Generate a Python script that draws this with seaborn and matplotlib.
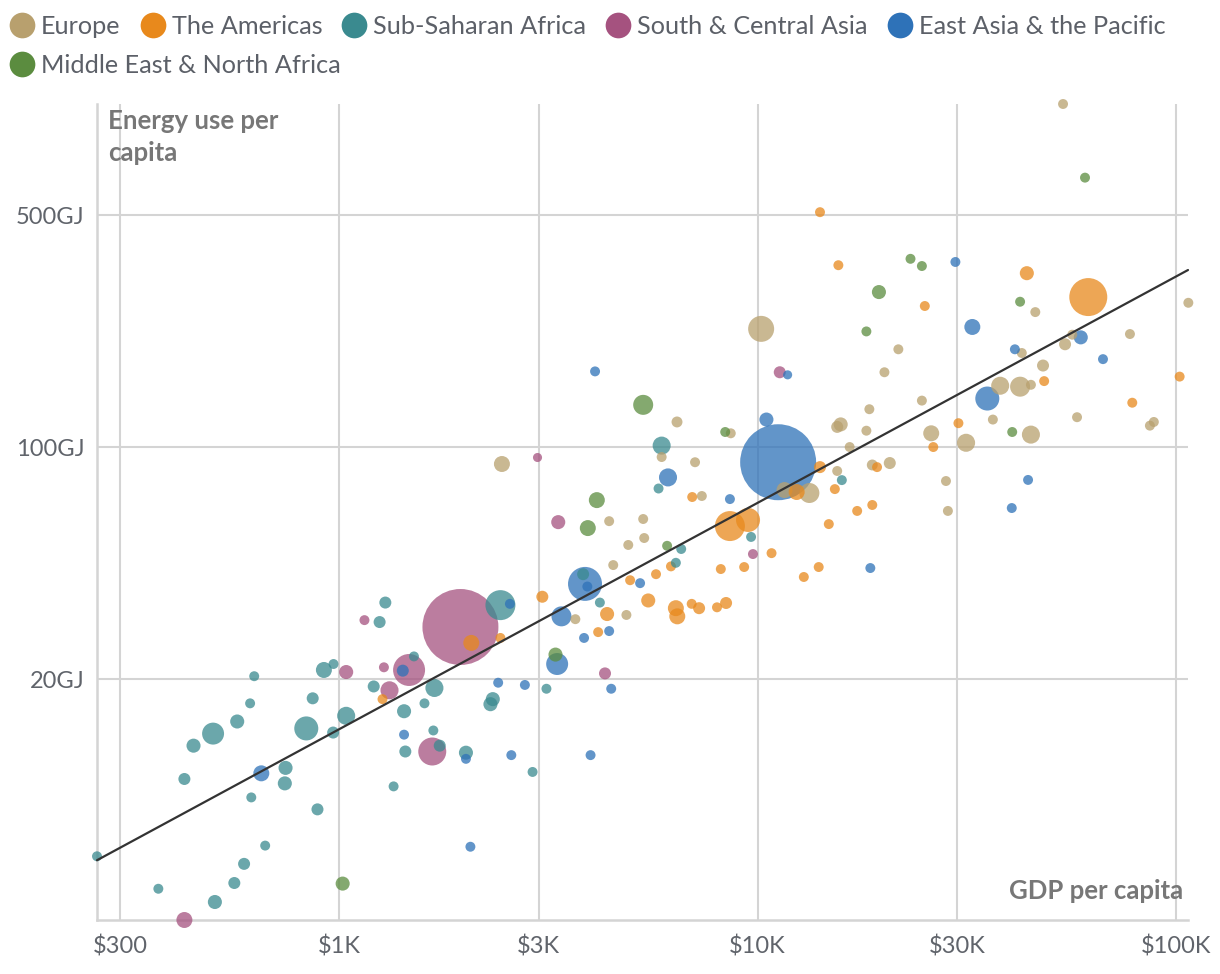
import numpy as np
import pandas as pd
import matplotlib
matplotlib.use("Agg")
import matplotlib.pyplot as plt
from matplotlib.lines import Line2D
from matplotlib.ticker import FixedLocator, FixedFormatter, NullLocator
import seaborn as sns

# ---------------- data ----------------
regions = ["Europe", "The Americas", "Sub-Saharan Africa", "South & Central Asia",
           "East Asia & the Pacific", "Middle East & North Africa"]
region_colors = ["#b8a06e", "#e8891c", "#3a8a8f", "#a5527f", "#2e72b8", "#5b8c3f"]

europe_gdp = [2450, 6420, 8630, 5900, 7090, 7360, 4420, 5330, 5360, 4910, 4520, 4860, 3670,
              10200, 21700, 20100, 15800, 15500, 18500, 18200, 16600, 15500, 18800, 20700,
              13300, 11600, 24700, 26000, 31500, 28200, 28500, 36500, 45000, 38000, 42400,
              45000, 42800, 48100, 54300, 56500, 77600, 46100, 107000, 58000, 88500, 86600, 53700]
europe_energy = [88.9, 119, 110, 93.3, 90, 71.2, 59.8, 60.7, 53.2, 50.7, 44.1, 31.2, 30.3,
                 227, 197, 168, 117, 115, 130, 112, 100, 84.7, 88.3, 89.5,
                 72.7, 74.2, 138, 110, 103, 79, 64.2, 121, 109, 153, 152,
                 154, 192, 176, 204, 218, 219, 255, 272, 123, 119, 116, 1080]
europe_pop = [62, 29, 24, 24, 24, 24, 24, 24, 24, 24, 24, 24, 24,
              164, 24, 24, 48, 35, 24, 24, 24, 24, 29, 35,
              97, 62, 24, 62, 79, 24, 24, 24, 79, 79, 97,
              24, 24, 35, 35, 24, 24, 24, 24, 24, 24, 24, 24]

americas_gdp = [1270, 2070, 2430, 3060, 4160, 4370, 5480, 4960, 5720, 6210, 6980, 6380, 6430,
                6960, 7250, 8000, 8410, 8170, 9290, 8590, 9490, 10800, 12400, 14000, 12900,
                14800, 17300, 18800, 14100, 15300, 19300, 26300, 30200, 48400, 78600, 102000,
                61700, 44000, 25100, 15600, 14100]
americas_energy = [17.4, 25.7, 26.6, 35.4, 27.7, 31.4, 34.5, 39.7, 41.4, 43.7, 70.7, 32.7, 30.9,
                   33.7, 32.7, 32.9, 33.9, 42.9, 43.5, 57.8, 60.3, 47.9, 73.2, 43.5, 40.6,
                   58.6, 64.2, 66.9, 87, 74.7, 87, 100, 118, 158, 136, 163,
                   283, 334, 266, 353, 510]
americas_pop = [24, 62, 24, 35, 24, 48, 48, 24, 24, 24, 24, 62, 62,
                24, 35, 24, 35, 24, 24, 218, 140, 24, 62, 24, 24,
                24, 24, 24, 35, 24, 24, 24, 24, 24, 24, 24,
                350, 48, 24, 24, 24]

ssa_gdp = [1290, 1250, 1510, 920, 970, 627, 1210, 1690, 1600, 1430, 865, 613, 571, 500, 449,
           835, 1040, 968, 1680, 1740, 1440, 2010, 427, 745, 742, 617, 888, 1350, 666, 593,
           562, 505, 370, 264, 5900, 5800, 9650, 6570, 6380, 3830, 2430, 4200, 3130, 2330,
           2300, 2900, 15900]
ssa_energy = [34, 29.7, 23.4, 21.3, 22.2, 20.4, 19.0, 18.8, 16.9, 16.0, 17.5, 16.9, 14.9, 13.7, 12.6,
              14.2, 15.5, 13.8, 14.0, 12.6, 12.1, 12.0, 10.0, 10.8, 9.7, 8.8, 8.1, 9.5, 6.3, 5.55,
              4.86, 4.26, 4.67, 5.85, 101, 75, 53.6, 49.3, 44.8, 41.4, 33.4, 34, 18.7, 17.4,
              16.8, 10.5, 79.5]
ssa_pop = [35, 35, 24, 62, 24, 24, 35, 79, 24, 48, 35, 24, 48, 117, 48,
           140, 79, 35, 24, 35, 35, 48, 35, 48, 48, 24, 35, 24, 24, 35,
           35, 48, 24, 24, 79, 24, 24, 24, 24, 35, 218, 24, 24, 48,
           48, 24, 24]

sca_gdp = [1150, 1950, 1040, 1280, 1470, 1320, 1670, 427, 2980, 3340, 9750, 4320, 11300]
sca_energy = [30.1, 28.7, 21.0, 21.7, 21.3, 18.5, 12.1, 3.76, 93, 59.4, 47.6, 20.8, 168]
sca_pop = [24, 1400, 48, 24, 248, 79, 190, 62, 20, 48, 24, 35, 35]

eap_gdp = [1420, 1430, 2010, 652, 2060, 10500, 11200, 6110, 8590, 5240, 3870, 3920, 2560,
           3400, 4420, 3850, 3320, 2400, 2780, 4470, 2580, 3990, 4090, 11800, 18600, 40500,
           44300, 29700, 32600, 41200, 59200, 66900, 35400]
eap_energy = [21.2, 13.6, 11.5, 10.4, 6.25, 121, 90, 81, 69.7, 38.9, 38.7, 38.0, 33.7,
              30.9, 27.9, 26.6, 22.2, 19.5, 19.2, 18.7, 11.8, 11.8, 169, 165, 43.2, 65.5,
              79.6, 361, 230, 197, 214, 184, 140]
eap_pop = [35, 24, 24, 62, 24, 48, 1400, 79, 24, 24, 280, 24, 24,
           97, 24, 24, 117, 24, 24, 24, 24, 24, 24, 20, 24, 24,
           24, 24, 62, 24, 48, 24, 140]

mena_gdp = [1020, 3290, 4130, 3930, 5330, 6080, 8370, 19500, 18200, 23200, 24700, 42400, 40600, 60600]
mena_energy = [4.84, 23.7, 69.2, 57, 134, 50.4, 111, 293, 223, 369, 351, 274, 111, 648]
mena_pop = [48, 48, 62, 62, 97, 24, 24, 48, 24, 24, 24, 24, 24, 24]

x_ticks = [300, 1000, 3000, 10000, 30000, 100000]
x_tick_labels = ["$300", "$1K", "$3K", "$10K", "$30K", "$100K"]
y_ticks = [20, 100, 500]
y_tick_labels = ["20GJ", "100GJ", "500GJ"]
x_title = "GDP per capita"
y_title = "Energy use per\ncapita"

# ---------------- build table ----------------
parts = []
for name, g, e, p in [
    (regions[0], europe_gdp, europe_energy, europe_pop),
    (regions[1], americas_gdp, americas_energy, americas_pop),
    (regions[2], ssa_gdp, ssa_energy, ssa_pop),
    (regions[3], sca_gdp, sca_energy, sca_pop),
    (regions[4], eap_gdp, eap_energy, eap_pop),
    (regions[5], mena_gdp, mena_energy, mena_pop),
]:
    parts.append(pd.DataFrame({"region": name, "gdp": g, "energy": e, "pop": p}))
df = pd.concat(parts, ignore_index=True)
df = df.sort_values("pop", ascending=False, kind="stable").reset_index(drop=True)

# ---------------- style ----------------
sns.set_theme(style="white")
plt.rcParams["font.family"] = ["Lato", "DejaVu Sans"]

W, H = 1220, 974
fig = plt.figure(figsize=(W / 100, H / 100), dpi=100)
ax_l, ax_r, ax_t, ax_b = 97, 1188, 104, 920
ax = fig.add_axes([ax_l / W, (H - ax_b) / H, (ax_r - ax_l) / W, (ax_b - ax_t) / H])

xlim = (264, 106800)
ylim = (3.76, 1080)
ax.set_xscale("log")
ax.set_yscale("log")

sns.scatterplot(data=df, x="gdp", y="energy", hue="region", hue_order=regions,
                palette=region_colors, size="pop", sizes=(0, 2992), size_norm=(0, 1400),
                alpha=0.75, linewidth=0, legend=False, ax=ax, clip_on=False, zorder=3)

# trend line (least squares in log-log space)
b, a = np.polyfit(np.log10(df["gdp"]), np.log10(df["energy"]), 1)
xs = np.logspace(np.log10(xlim[0]), np.log10(xlim[1]), 50)
ax.plot(xs, 10 ** (a + b * np.log10(xs)), color="#333333", lw=1.6, zorder=4, clip_on=False)

ax.set_xlim(*xlim)
ax.set_ylim(*ylim)
ax.xaxis.set_major_locator(FixedLocator(x_ticks))
ax.xaxis.set_major_formatter(FixedFormatter(x_tick_labels))
ax.yaxis.set_major_locator(FixedLocator(y_ticks))
ax.yaxis.set_major_formatter(FixedFormatter(y_tick_labels))
ax.xaxis.set_minor_locator(NullLocator())
ax.yaxis.set_minor_locator(NullLocator())

grid_c = "#d4d4d4"
ax.set_axisbelow(True)
ax.grid(True, which="major", color=grid_c, lw=1.5)
for s in ["top", "right"]:
    ax.spines[s].set_visible(False)
for s in ["left", "bottom"]:
    ax.spines[s].set_color(grid_c)
    ax.spines[s].set_linewidth(1.8)
ax.tick_params(axis="both", length=0, labelsize=17, labelcolor="#60646b")
ax.tick_params(axis="x", pad=11)
ax.tick_params(axis="y", pad=9)
ax.set_xlabel("")
ax.set_ylabel("")

title_c = "#777777"
ax.text((108 - ax_l) / (ax_r - ax_l), (ax_b - 109) / (ax_b - ax_t), y_title,
        transform=ax.transAxes, ha="left", va="top", fontsize=18.5, fontweight="bold",
        color=title_c, linespacing=1.42, zorder=5)
ax.text((1183 - ax_l) / (ax_r - ax_l), (ax_b - 891) / (ax_b - ax_t), x_title,
        transform=ax.transAxes, ha="right", va="center", fontsize=18.5, fontweight="bold",
        color=title_c, zorder=5)

# ---------------- flow legend ----------------
fig.canvas.draw()
renderer = fig.canvas.get_renderer()
leg_fs = 18.2
x_cur = 10
row_y = [25, 64]
row = 0
for name, col in zip(regions, region_colors):
    t = fig.text(0, 0, name, fontsize=leg_fs, color="#5c6068", ha="left", va="baseline")
    w = t.get_window_extent(renderer).width
    if x_cur + 31 + w > W - 5:
        row += 1
        x_cur = 10
    cy = row_y[row]
    t.set_position(((x_cur + 31) / W, 1 - (cy + 9) / H))
    fig.add_artist(Line2D([(x_cur + 12) / W], [1 - cy / H], marker="o", markersize=18.5,
                          color=col, markeredgewidth=0, linestyle="none",
                          transform=fig.transFigure))
    x_cur = x_cur + 31 + w + 20

fig.savefig("out.png", dpi=100)
